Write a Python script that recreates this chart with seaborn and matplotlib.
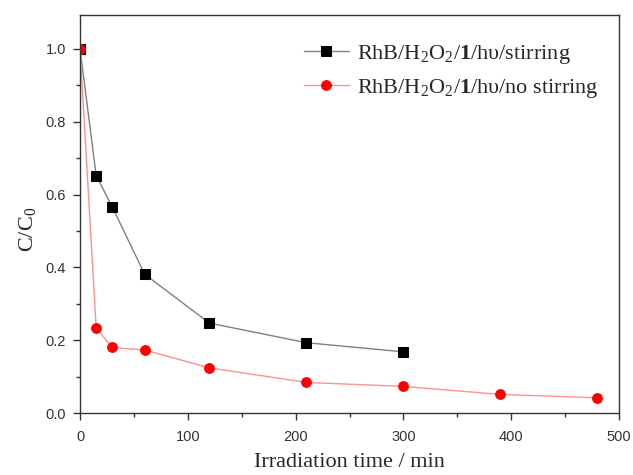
import numpy as np
import pandas as pd
import matplotlib
matplotlib.use("Agg")
import matplotlib.pyplot as plt
from matplotlib.ticker import MultipleLocator
import seaborn as sns

# data
time_stir = [0, 15, 30, 60, 120, 210, 300]
c_stir = [1.0, 0.652, 0.565, 0.381, 0.247, 0.193, 0.168]
time_nostir = [0, 15, 30, 60, 120, 210, 300, 390, 480]
c_nostir = [1.0, 0.233, 0.180, 0.173, 0.124, 0.084, 0.073, 0.051, 0.042]

lab_stir = "RhB/H$_2$O$_2$/$\\mathbf{1}$/h\u03c5/stirring"
lab_nostir = "RhB/H$_2$O$_2$/$\\mathbf{1}$/h\u03c5/no stirring"

sns.set_style("ticks")
plt.rcParams['font.family'] = ['Liberation Serif', 'DejaVu Serif']
plt.rcParams['mathtext.fontset'] = 'custom'
plt.rcParams['mathtext.rm'] = 'Liberation Serif'
plt.rcParams['mathtext.it'] = 'Liberation Serif:italic'
plt.rcParams['mathtext.bf'] = 'Liberation Serif:bold'

df_stir = pd.DataFrame({'t': time_stir, 'c': c_stir})
df_nostir = pd.DataFrame({'t': time_nostir, 'c': c_nostir})

fig = plt.figure(figsize=(6.33, 4.75), dpi=100)
ax = fig.add_axes([0.1264, 0.1305, 0.8515, 0.838])

sns.lineplot(data=df_stir, x='t', y='c', ax=ax, color='#808080', lw=1.0,
             marker='s', markersize=6.5, markerfacecolor='black',
             markeredgecolor='black', label=lab_stir)
sns.lineplot(data=df_nostir, x='t', y='c', ax=ax, color='#ff9090', lw=1.0,
             marker='o', markersize=7, markerfacecolor='red',
             markeredgecolor='red', label=lab_nostir)

ax.set_xlim(0, 500)
ax.set_ylim(0, 1.093)
ax.xaxis.set_major_locator(MultipleLocator(100))
ax.xaxis.set_minor_locator(MultipleLocator(50))
ax.yaxis.set_minor_locator(MultipleLocator(0.1))
ax.set_yticks([0, 0.2, 0.4, 0.6, 0.8, 1.0])
ax.set_yticklabels(['0.0', '0.2', '0.4', '0.6', '0.8', '1.0'])

for s in ax.spines.values():
    s.set_color('#333333')
    s.set_linewidth(1.0)
ax.tick_params(which='major', direction='out', length=5, width=1, colors='#333333',
               labelsize=10.5)
ax.tick_params(axis='x', which='major', pad=7)
ax.tick_params(axis='y', which='major', pad=5)
ax.tick_params(which='minor', direction='out', length=3, width=1, colors='#333333')
for lbl in ax.get_xticklabels() + ax.get_yticklabels():
    lbl.set_family('Liberation Sans')

ax.set_xlabel('Irradiation time / min', fontsize=16)
ax.set_ylabel('C/C$_0$', fontsize=16)
ax.xaxis.set_label_coords(0.5, -0.1)
ax.yaxis.set_label_coords(-0.078, 0.46)

ax.legend(loc='upper right', frameon=False, fontsize=16, handlelength=2.0,
          bbox_to_anchor=(1.0, 0.98), labelspacing=0.5, handletextpad=0.4)

fig.savefig('out.png', dpi=100)
